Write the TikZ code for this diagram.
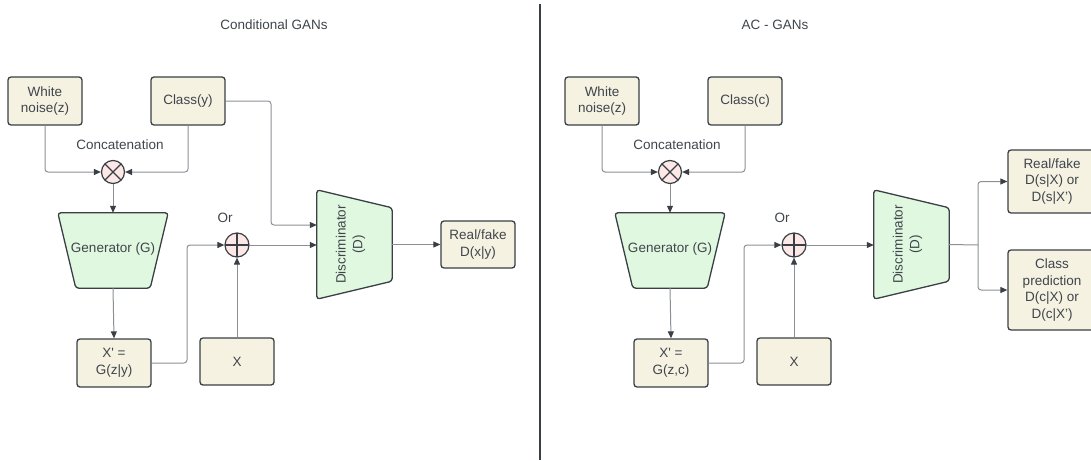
\documentclass[tikz,border=0pt]{standalone}
\usepackage{fontspec}
\setmainfont{Liberation Sans}
\usepackage{xcolor}
\definecolor{boxfill}{HTML}{F5F2E2}
\definecolor{trapfill}{HTML}{E0F8E0}
\definecolor{joinfill}{HTML}{FCE8E6}
\definecolor{edge}{HTML}{3A3F45}
\definecolor{flowline}{HTML}{8C9095}
\definecolor{inktext}{HTML}{40454C}
\usepackage{tikz}
\usetikzlibrary{arrows.meta, positioning, calc}

\begin{document}
\begin{tikzpicture}[
  x=1pt, y=1pt,
  every node/.style={font=\fontsize{13.5}{16.8}\selectfont, text=inktext},
  gantext/.style={align=center, inner sep=1pt},
  ganbox/.style={draw=edge, fill=boxfill, line width=1.3pt, rounded corners=3pt,
    minimum width=74pt, minimum height=48pt, align=center, inner sep=2pt},
  ganshape/.style={rectangle, inner sep=0pt},
  gantrap/.style={draw=edge, fill=trapfill, line width=1.3pt, rounded corners=3pt},
  catjoin/.style={circle, draw=edge, fill=joinfill, line width=1.2pt, minimum size=23pt,
    inner sep=0pt, path picture={\draw[edge, line width=1.2pt]
      (path picture bounding box.north west) -- (path picture bounding box.south east)
      (path picture bounding box.north east) -- (path picture bounding box.south west);}},
  sumjoin/.style={circle, draw=edge, fill=joinfill, line width=1.2pt, minimum size=24pt,
    inner sep=0pt, path picture={\draw[edge, line width=1.2pt]
      (path picture bounding box.north) -- (path picture bounding box.south)
      (path picture bounding box.west) -- (path picture bounding box.east);}},
  ganline/.style={draw=flowline, line width=1pt, rounded corners=3pt},
  ganflow/.style={ganline, -{Triangle[length=7pt, width=6pt, color=edge]}}
]
  \clip (0,0) rectangle (1091,-460);

  % Macro for one half: prefix, x shift, class label, generator argument
  \newcommand{\ganhalf}[4]{%
    \begin{scope}[xshift=#2]
      \node[ganbox] (#1noise) at (45,-101) {White\\noise(z)};
      \node[ganbox] (#1class) at (188,-101) {#3};
      \node[gantext] (#1concat) at (120,-145) {Concatenation};
      \node[catjoin] (#1cat) at (113,-172) {};
      \node[ganshape, minimum width=110pt, minimum height=75pt] (#1gen) at (113,-250.5) {};
      \draw[gantrap] (#1gen.north west) -- (#1gen.north east)
        -- ([xshift=-18pt]#1gen.south east) -- ([xshift=18pt]#1gen.south west) -- cycle;
      \node[gantext] (#1gentxt) at ([yshift=1pt]#1gen.center) {Generator (G)};
      \node[ganbox] (#1fake) at (114,-363) {X\textquotesingle\ =\\G(#4)};
      \node[ganbox, minimum height=47pt] (#1real) at (237,-361.5) {X};
      \node[sumjoin] (#1sum) at (237,-245) {};
      \node[gantext] (#1or) at (225,-218) {Or};
      \node[ganshape, minimum width=75pt, minimum height=109pt] (#1disc) at (354.5,-244.5) {};
      \draw[gantrap] (#1disc.north west) -- ([yshift=-18pt]#1disc.north east)
        -- ([yshift=18pt]#1disc.south east) -- (#1disc.south west) -- cycle;
      \node[gantext, rotate=90] (#1disctxt) at ([xshift=-4pt]#1disc.center) {Discriminator\\(D)};
      \coordinate (#1fbend) at (187,-245);
      \coordinate (#1cbend) at (271,-225);

      % Connectors
      \draw[ganflow] (#1noise.south) |- (#1cat.west);
      \draw[ganflow] (#1class.south) |- (#1cat.east);
      \draw[ganflow] (#1cat.south) -- (#1gen.north);
      \draw[ganflow] (#1gen.south) -- (#1fake.north);
      \draw[ganflow] (#1fake.east) -| (#1fbend) -- (#1sum.west);
      \draw[ganflow] (#1real.north) -- (#1sum.south);
      \draw[ganflow] (#1sum.east) -- (#1sum.east -| #1disc.west);
    \end{scope}
  }

  % Titles and divider
  \node[gantext] (cgtitle) at (274,-25) {Conditional GANs};
  \node[gantext] (actitle) at (775,-25) {AC - GANs};
  \draw[edge, line width=1.2pt] (540,-4) -- (540,-460);

  % Conditional GANs
  \ganhalf{cg}{0pt}{Class(y)}{z|y}
  \node[ganbox, minimum height=47pt] (cgout) at (478,-244.5) {Real/fake\\D(x|y)};
  \draw[ganflow] (cgclass.east) -| (cgcbend) -- (cgcbend -| cgdisc.west);
  \draw[ganflow] (cgdisc.east) -- (cgout.west);

  % AC-GANs
  \ganhalf{ac}{557pt}{Class(c)}{z,c}
  \node[ganbox, minimum width=88pt, minimum height=63pt] (acreal) at (1052,-181.5)
    {Real/fake\\D(s|X) or\\D(s|X')};
  \node[ganbox, minimum width=88pt, minimum height=80pt] (acpred) at (1052,-290)
    {Class\\prediction\\D(c|X) or\\D(c|X')};
  \coordinate (acsplit) at (978,-245);
  \draw[ganline] (acdisc.east) -- (acsplit);
  \draw[ganflow] (acsplit) |- (acreal.west);
  \draw[ganflow] (acsplit) |- (acpred.west);
\end{tikzpicture}
\end{document}
